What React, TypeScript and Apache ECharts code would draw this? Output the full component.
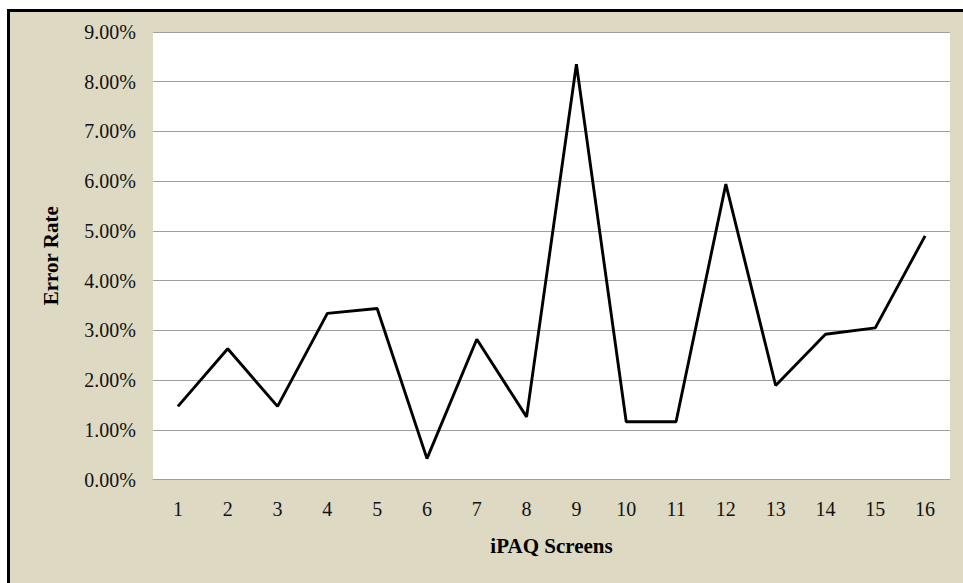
import React, { useEffect, useRef } from "react";
import * as echarts from "echarts";

const categories = ["1", "2", "3", "4", "5", "6", "7", "8", "9", "10", "11", "12", "13", "14", "15", "16"];
const errorRate = [1.47, 2.63, 1.47, 3.34, 3.44, 0.42, 2.82, 1.26, 8.35, 1.16, 1.16, 5.94, 1.89, 2.92, 3.05, 4.9];
const yMin = 0;
const yMax = 9;
const yInterval = 1;

const FONT = "'Liberation Serif', 'Times New Roman', serif";

export default function App() {
  const ref = useRef<HTMLDivElement>(null);
  useEffect(() => {
    if (!ref.current) return;
    const chart = echarts.init(ref.current, null, { renderer: "svg" });
    chart.setOption({
      animation: false,
      backgroundColor: "transparent",
      grid: {
        left: 153,
        top: 32,
        right: 13,
        bottom: 103.5,
        show: true,
        backgroundColor: "#ffffff",
        borderWidth: 0,
      },
      xAxis: {
        type: "category",
        data: categories,
        boundaryGap: true,
        name: "iPAQ Screens",
        nameLocation: "middle",
        nameGap: 56,
        nameTextStyle: { fontFamily: FONT, fontSize: 21, fontWeight: "bold", color: "#000" },
        axisLine: { show: true, lineStyle: { color: "#a0a0a0", width: 1 } },
        axisTick: { show: false },
        axisLabel: { fontFamily: FONT, fontSize: 20, color: "#111", margin: 19 },
        splitLine: { show: false },
      },
      yAxis: {
        type: "value",
        min: yMin,
        max: yMax,
        interval: yInterval,
        name: "Error Rate",
        nameLocation: "middle",
        nameGap: 92,
        nameTextStyle: { fontFamily: FONT, fontSize: 21, fontWeight: "bold", color: "#000" },
        axisLine: { show: false },
        axisTick: { show: false },
        axisLabel: {
          fontFamily: FONT,
          fontSize: 20,
          color: "#111",
          margin: 17,
          formatter: (v: number) => v.toFixed(2) + "%",
        },
        splitLine: { show: true, lineStyle: { color: "#a0a0a0", width: 1 } },
      },
      series: [
        {
          type: "line",
          data: errorRate,
          symbol: "none",
          lineStyle: { color: "#000", width: 2.9 },
          itemStyle: { color: "#000" },
        },
      ],
    });
    return () => chart.dispose();
  }, []);
  return (
    <div style={{ position: "fixed", left: 0, top: 0, width: 963, height: 583, background: "#fff" }}>
      <div
        style={{
          position: "absolute",
          left: 7,
          top: 9,
          right: 0,
          bottom: 0,
          background: "#ddd9c3",
          borderTop: "3px solid #000",
          borderLeft: "3px solid #000",
        }}
      />
      <div ref={ref} style={{ position: "absolute", left: 0, top: 0, width: 963, height: 583 }} />
    </div>
  );
}
